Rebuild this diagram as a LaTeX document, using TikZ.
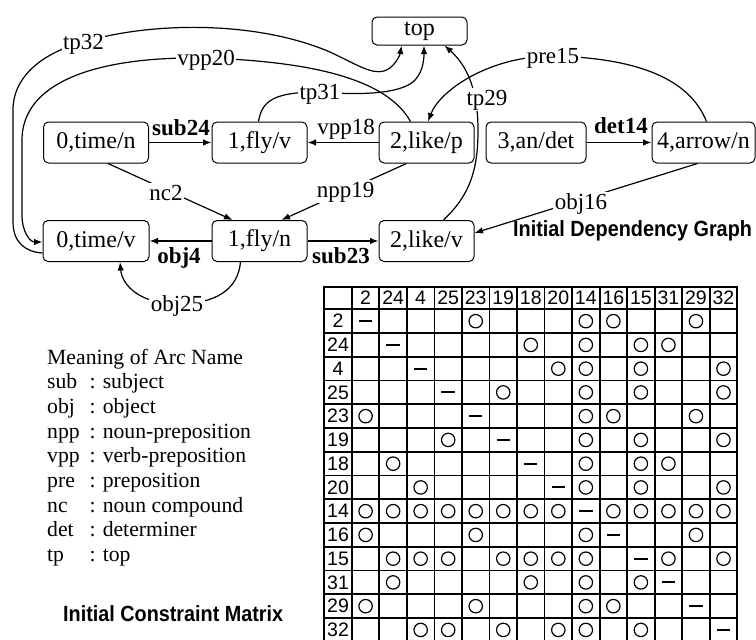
\documentclass[tikz,border=0pt]{standalone}
\usepackage{fontspec}
\setmainfont{Liberation Serif}
\newfontfamily\headfont{Liberation Sans}
\newfontfamily\narrowhead[FakeStretch=0.9]{Liberation Sans}
\usetikzlibrary{arrows.meta,calc}

\begin{document}
\begin{tikzpicture}[x=1pt,y=-1pt,
  word/.style={draw,rounded corners=5pt,line width=1pt,minimum height=41pt,
    inner sep=0pt,font=\fontsize{24}{24}\selectfont},
  arc/.style={line width=1.2pt,-{Latex[length=8.5pt,width=6.5pt]}},
  lab/.style={fill=white,inner sep=1.5pt,anchor=base,font=\fontsize{23}{23}\selectfont},
  blab/.style={inner sep=0pt,anchor=base,font=\fontsize{23}{23}\selectfont\bfseries},
  legend/.style={anchor=base west,inner sep=0pt,font=\fontsize{21.7}{21.7}\selectfont},
  caption/.style={anchor=base west,inner sep=0pt,font=\fontsize{22}{22}\selectfont\narrowhead\bfseries},
  gridline/.style={line width=1.8pt},
  cell/.style={font=\fontsize{19.5}{19.5}\selectfont\headfont,inner sep=0pt},
]
\useasboundingbox (0,0) rectangle (756,640);

% ---- dependency graph: word nodes ----
\node[word,minimum width=95pt,minimum height=28pt] (top) at (419.5,31) {top};
\node[word,minimum width=105pt] (tn) at (96,142.5)    {0,time/n};
\node[word,minimum width=95pt]  (fv) at (259.5,142.5) {1,fly/v};
\node[word,minimum width=95pt]  (lp) at (426.5,142.5) {2,like/p};
\node[word,minimum width=100pt] (ad) at (536,142.5)   {3,an/det};
\node[word,minimum width=103pt] (ar) at (703.5,142.5) {4,arrow/n};
\node[word,minimum width=106pt] (tv) at (96,241)      {0,time/v};
\node[word,minimum width=95pt]  (fn) at (259.5,241)   {1,fly/n};
\node[word,minimum width=95pt]  (lv) at (426.5,241)   {2,like/v};

% ---- straight arcs ----
\draw[arc] (tn.east) -- (fv.west);
\draw[arc] (lp.west) -- (fv.east);
\draw[arc] (ad.east) -- (ar.west);
\draw[arc] (fn.west) -- (tv.east);
\draw[arc] (fn.east) -- (lv.west);
\draw[arc] ([xshift=12pt]tn.south) -- ([xshift=-27pt]fn.north);
\draw[arc] ([xshift=-20pt]lp.south) -- ([xshift=22pt]fn.north);
\draw[arc] ([xshift=-6pt]ar.south) -- ([yshift=8pt]lv.east);

% ---- curved arcs ----
% tp32: 0,time/v -> top, round the left side
\draw[arc] ([yshift=-12pt]tv.west) .. controls (25,252) and (13,242) .. (13,222)
  -- (13,110) .. controls (13,75) and (45,52) .. (83.5,42)
  .. controls (150,22) and (255,20) .. (330,52)
  .. controls (360,66) and (376,78) .. (390,68)
  .. controls (397,62) and (400,55) .. ([xshift=-18pt]top.south);
% vpp20: 2,like/p -> 0,time/v
\draw[arc] ([xshift=-16pt]lp.north) .. controls (390,85) and (330,62) .. (206,58)
  .. controls (90,56) and (22,85) .. (22,140)
  -- (22,215) .. controls (22,232) and (30,242) .. ([yshift=-1pt]tv.west);
% tp31: 1,fly/v -> top
\draw[arc] ([xshift=-1pt]fv.north) .. controls (262,100) and (275,92) .. (320,92)
  .. controls (370,96) and (400,92) .. (413,82)
  .. controls (422,74) and (424,62) .. ([xshift=4.5pt]top.south);
% tp29: 2,like/v -> top
\draw[arc] ([xshift=17pt]lv.north) .. controls (470,195) and (478,170) .. (478,130)
  .. controls (478,100) and (472,70) .. ([xshift=25pt]top.south);
% pre15: 4,arrow/n -> 2,like/p
\draw[arc] ([xshift=3pt]ar.north) .. controls (690,80) and (640,58) .. (553,56)
  .. controls (490,56) and (440,90) .. ([xshift=1.5pt]lp.north);
% obj25: 1,fly/n -> 0,time/v, below
\draw[arc] ([xshift=-19pt]fn.south) .. controls (238,290) and (215,304) .. (177,304)
  .. controls (140,304) and (122,285) .. ([xshift=24pt]tv.south);

% ---- arc labels ----
\node[blab] (l24) at (181,135) {sub24};
\node[lab,fill=none,inner sep=0pt] (l18) at (346,134) {vpp18};
\node[blab] (l14) at (621,133) {det14};
\node[blab] (l4)  at (179,263) {obj4};
\node[blab] (l23) at (341,263) {sub23};
\node[lab] (l32) at (83.5,49) {tp32};
\node[lab] (l20) at (206,65) {vpp20};
\node[lab] (l31) at (320,99) {tp31};
\node[lab] (l29) at (487,105) {tp29};
\node[lab] (l15) at (553,63) {pre15};
\node[lab] (l2)  at (166,200) {nc2};
\node[lab] (l19) at (345.5,197) {npp19};
\node[lab] (l16) at (581,209) {obj16};
\node[lab] (l25) at (177,311) {obj25};

\node[caption] (gcap) at (513,236) {Initial Dependency Graph};

% ---- legend ----
\node[legend] (lg) at (47,364) {Meaning of Arc Name};
\foreach \ab/\txt [count=\k] in {sub/subject,obj/object,npp/noun-preposition,
    vpp/verb-preposition,pre/preposition,nc/noun compound,det/determiner,tp/top}{
  \node[legend] (ab\k) at (47,{364+24.7*\k}) {\ab};
  \node[legend] (tx\k) at (89.3,{364+24.7*\k}) {: \txt};
}
\node[caption] (mcap) at (63,621) {Initial Constraint Matrix};

% ---- constraint matrix ----
\def\mx{324.3}\def\cw{27.53}\def\my{309.3}\def\rh{23.75}
\foreach \i in {1,...,14}
  \draw[gridline] ({\mx+\i*\cw},286.7) -- ({\mx+\i*\cw},646);
\foreach \k in {0,...,13}
  \draw[gridline] (\mx,{\my+\k*\rh}) -- ({\mx+15*\cw},{\my+\k*\rh});
\draw[line width=2.2pt] (\mx,286.7) rectangle ({\mx+15*\cw},646);

\foreach \lab [count=\j] in {2,24,4,25,23,19,18,20,14,16,15,31,29,32}{
  \node[cell] (ch\j) at ({\mx+(\j+0.5)*\cw},298) {\lab};
  \node[cell] (rh\j) at ({\mx+0.5*\cw},{\my+(\j-0.5)*\rh}) {\lab};
}

\foreach \cells [count=\r] in {
  {d,n,n,n,o,n,n,n,o,o,n,n,o,n},
  {n,d,n,n,n,n,o,n,o,n,o,o,n,n},
  {n,n,d,n,n,n,n,o,o,n,o,n,n,o},
  {n,n,n,d,n,o,n,n,o,n,o,n,n,o},
  {o,n,n,n,d,n,n,n,o,o,n,n,o,n},
  {n,n,n,o,n,d,n,n,o,n,o,n,n,o},
  {n,o,n,n,n,n,d,n,o,n,o,o,n,n},
  {n,n,o,n,n,n,n,d,o,n,o,n,n,o},
  {o,o,o,o,o,o,o,o,d,o,o,o,o,o},
  {o,n,n,n,o,n,n,n,o,d,n,n,o,n},
  {n,o,o,o,n,o,o,o,o,n,d,o,n,o},
  {n,o,n,n,n,n,o,n,o,n,o,d,n,n},
  {o,n,n,n,o,n,n,n,o,o,n,n,d,n},
  {n,n,o,o,n,o,n,o,o,n,o,n,n,d}}{
  \foreach \c [count=\j] in \cells {
    \if o\c
      \draw[line width=1.2pt] ({\mx+(\j+0.5)*\cw},{\my+(\r-0.5)*\rh}) circle[radius=6.7pt];
    \fi
    \if d\c
      \draw[line width=2pt] ({\mx+(\j+0.5)*\cw-6.7},{\my+(\r-0.5)*\rh})
        -- ({\mx+(\j+0.5)*\cw+6.7},{\my+(\r-0.5)*\rh});
    \fi
  }
}
\end{tikzpicture}
\end{document}
